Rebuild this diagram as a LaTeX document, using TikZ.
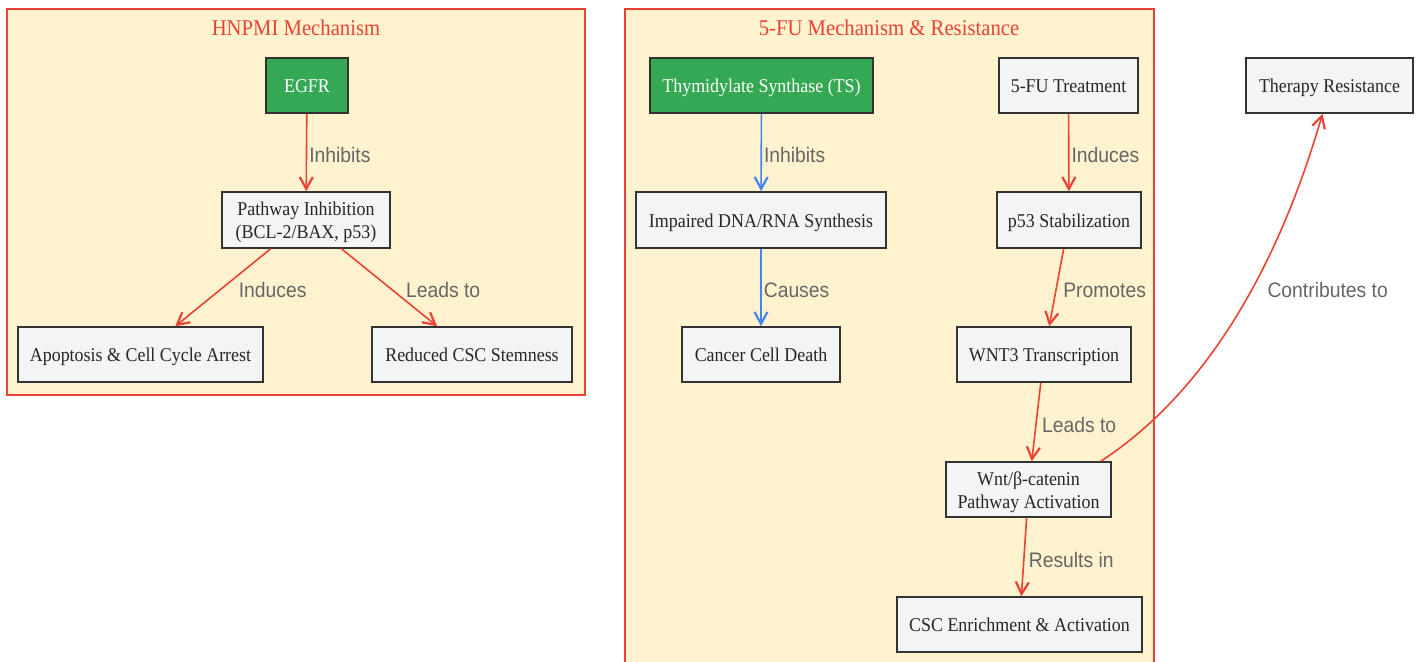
\documentclass[tikz,border=0pt]{standalone}
\usepackage{fontspec}
\setmainfont{Liberation Serif}[FakeStretch=0.92]
\setsansfont{Liberation Sans}[FakeStretch=0.92]
\usepackage{xcolor}
\usepackage{tikz}
\usetikzlibrary{arrows.meta}

\definecolor{clusterfill}{RGB}{255,242,206}
\definecolor{clusterred}{RGB}{234,67,53}
\definecolor{boxgreen}{RGB}{52,168,83}
\definecolor{boxgray}{RGB}{243,244,246}
\definecolor{arrowblue}{RGB}{66,133,244}
\definecolor{labelgray}{RGB}{102,102,102}

\begin{document}
\begin{tikzpicture}[x=1pt,y=-1pt,
box/.style={draw=black!80, line width=1.5pt, fill=boxgray, text=black!85, font=\fontsize{19.5}{23}\selectfont, align=center, inner sep=0pt, text height=17pt, text depth=3pt},
twobox/.style={box, text height=, text depth=},
greenbox/.style={box, fill=boxgreen, text=white},
lbl/.style={text=labelgray, font=\sffamily\fontsize{21}{24}\selectfont, inner sep=2pt, yshift=-2.5pt},
redarrow/.style={draw=clusterred, line width=1.6pt, -{Straight Barb[length=12pt,width=13pt,line width=2.2pt]}},
bluearrow/.style={redarrow, draw=arrowblue},
cluster/.style={draw=clusterred, line width=1.3pt, fill=clusterfill},
title/.style={text=clusterred, font=\fontsize{22.5}{26}\selectfont, text height=15pt, text depth=4pt}]

\useasboundingbox (0,0) rectangle (1420,661);

\draw[cluster] (7,9) rectangle (585,395);
\draw[cluster] (625,9) rectangle (1154,680);

\node[title] (hnpmititle) at (296,30) {HNPMI Mechanism};
\node[title] (futitle) at (889,30) {5-FU Mechanism \& Resistance};

\node[greenbox, minimum width=82, minimum height=55] (egfr) at (307,85.5) {EGFR};
\node[twobox, minimum width=168, minimum height=56] (pathinh) at (306,220) {\rule{0pt}{19pt}Pathway Inhibition\\(BCL-2/BAX, p53)};
\node[box, minimum width=245, minimum height=55] (apoptosis) at (140.5,354.5) {Apoptosis \& Cell Cycle Arrest};
\node[box, minimum width=200, minimum height=55] (stemness) at (472,354.5) {Reduced CSC Stemness};

\node[greenbox, minimum width=223, minimum height=55] (ts) at (761.5,85.5) {Thymidylate Synthase (TS)};
\node[box, minimum width=139, minimum height=55] (futreat) at (1068.5,85.5) {5-FU Treatment};
\node[box, minimum width=250, minimum height=56] (impaired) at (761,220) {Impaired DNA/RNA Synthesis};
\node[box, minimum width=144, minimum height=56] (pstab) at (1069,220) {p53 Stabilization};
\node[box, minimum width=158, minimum height=55] (death) at (761,354.5) {Cancer Cell Death};
\node[box, minimum width=174, minimum height=55] (wntthree) at (1044,354.5) {WNT3 Transcription};
\node[twobox, minimum width=165, minimum height=55] (wntpath) at (1028.5,489.5) {\rule{0pt}{19pt}Wnt/β-catenin\\Pathway Activation};
\node[box, minimum width=245, minimum height=55] (cscenrich) at (1019.5,624.5) {CSC Enrichment \& Activation};
\node[box, minimum width=167, minimum height=55] (resist) at (1329.5,85.5) {Therapy Resistance};

\draw[redarrow] (egfr) -- node[lbl, right] {Inhibits} (pathinh);
\draw[redarrow] (pathinh) -- node[lbl, right=13pt] {Induces} (apoptosis);
\draw[redarrow] (pathinh) -- node[lbl, right=14pt] {Leads to} (stemness);

\draw[bluearrow] (ts) -- node[lbl, right] {Inhibits} (impaired);
\draw[bluearrow] (impaired) -- node[lbl, right] {Causes} (death);

\draw[redarrow] (futreat) -- node[lbl, right] {Induces} (pstab);
\draw[redarrow] (pstab) -- node[lbl, right=4pt] {Promotes} (wntthree);
\draw[redarrow] (wntthree) -- node[lbl, right=3pt] {Leads to} (wntpath);
\draw[redarrow] (wntpath) -- node[lbl, right=2pt] {Results in} (cscenrich);
\draw[redarrow] ([xshift=-11pt]wntpath.north east) .. controls (1210,390) and (1280,260) .. node[lbl, pos=0.576, right=12pt] {Contributes to} ([xshift=-7pt]resist.south);

\end{tikzpicture}
\end{document}
